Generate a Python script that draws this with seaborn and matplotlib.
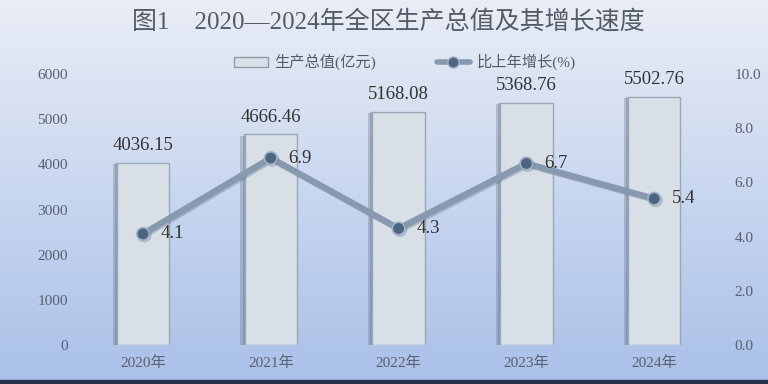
import matplotlib
matplotlib.use('Agg')
import matplotlib.pyplot as plt
import matplotlib.patheffects as pe
from matplotlib.lines import Line2D
from matplotlib.patches import Patch
import numpy as np
import pandas as pd
import seaborn as sns

# data
years = ['2020年', '2021年', '2022年', '2023年', '2024年']
gdp = [4036.15, 4666.46, 5168.08, 5368.76, 5502.76]
growth = [4.1, 6.9, 4.3, 6.7, 5.4]

sns.set_style('white')
plt.rcParams['font.family'] = ['Liberation Serif', 'Noto Sans CJK SC', 'DejaVu Sans']

df = pd.DataFrame({'year': years, 'gdp': gdp, 'growth': growth})
df['pos'] = np.arange(len(df))

fig = plt.figure(figsize=(7.68, 3.84), dpi=100)

# background gradient, light at the top and blue at the bottom
bg = fig.add_axes([0, 0, 1, 1], zorder=-10)
grad = np.linspace(0, 1, 256).reshape(-1, 1)
cmap = matplotlib.colors.LinearSegmentedColormap.from_list('bg', ['#e9edf6', '#a9c0e8'])
bg.imshow(grad, aspect='auto', cmap=cmap, extent=[0, 1, 0, 1], origin='upper')
bg.set_axis_off()
fig.add_artist(plt.Rectangle((0, 0), 1, 0.011, transform=fig.transFigure,
                             color='#27314a', zorder=5))

ax = fig.add_axes([0.103, 0.1016, 0.832, 0.7055])
ax.patch.set_alpha(0)
sns.barplot(data=df, x='year', y='gdp', ax=ax, color='#d9dfe7', width=0.41,
            edgecolor='#9aa7b6', linewidth=1.0, saturation=1, zorder=2)
# soft shadow on the left of each bar
for bar in ax.patches:
    bar.set_path_effects([pe.SimplePatchShadow(offset=(-3, -1), shadow_rgbFace='#5c6b80', alpha=0.3),
                          pe.SimplePatchShadow(offset=(-1.5, 0), shadow_rgbFace='#5c6b80', alpha=0.3),
                          pe.Normal()])
ax.set_ylim(0, 6000)
ax.set_yticks(range(0, 6001, 1000))
ax.set_xlim(-0.5, len(df) - 0.5)
ax.set_xlabel('')
ax.set_ylabel('')
ax.tick_params(axis='both', length=0, labelsize=11, labelcolor='#5a6070', pad=8)
for s in ax.spines.values():
    s.set_visible(False)

# value labels over the bars
for i, v in enumerate(gdp):
    ax.text(i, v + 190, f'{v:.2f}', ha='center', va='bottom', fontsize=13.5, color='#333333')

ax2 = ax.twinx()
sns.lineplot(data=df, x='pos', y='growth', ax=ax2, color='#8799ae', linewidth=4.5,
             marker='o', markersize=9, markerfacecolor='#4c6581',
             markeredgecolor='#a3b3c6', markeredgewidth=1.2, zorder=3,
             path_effects=[pe.SimpleLineShadow(offset=(1, -1), shadow_color='#5a6a80', alpha=0.35),
                           pe.Normal()])
ax2.set_ylim(0, 10)
ax2.set_yticks(np.arange(0, 10.1, 2))
ax2.set_yticklabels([f'{t:.1f}' for t in np.arange(0, 10.1, 2)])
ax2.set_xlim(-0.5, len(df) - 0.5)
ax2.set_xlabel('')
ax2.set_ylabel('')
ax2.tick_params(axis='y', length=0, labelsize=11, labelcolor='#5a6070', pad=12)
for s in ax2.spines.values():
    s.set_visible(False)
ax2.grid(False)

for i, v in enumerate(growth):
    ax2.text(i + 0.14, v, f'{v}', ha='left', va='center', fontsize=13.5, color='#333333')

# legend
handles = [Patch(facecolor='#d9dfe7', edgecolor='#8c9aab', label='生产总值(亿元)'),
           Line2D([0], [0], color='#8799ae', linewidth=4, marker='o', markersize=8,
                  markerfacecolor='#4c6581', markeredgecolor='#a3b3c6', label='比上年增长(%)')]
fig.legend(handles=handles, loc='center', bbox_to_anchor=(0.527, 0.838), ncol=2,
           frameon=False, fontsize=11, labelcolor='#555b66', columnspacing=4,
           handlelength=2.2, handletextpad=0.4)

fig.text(0.505, 0.943, '图1　2020—2024年全区生产总值及其增长速度', ha='center', va='center',
         fontsize=18, color='#555b66', family=['Liberation Serif', 'Noto Sans CJK SC'])

fig.savefig('out.png', dpi=100)
